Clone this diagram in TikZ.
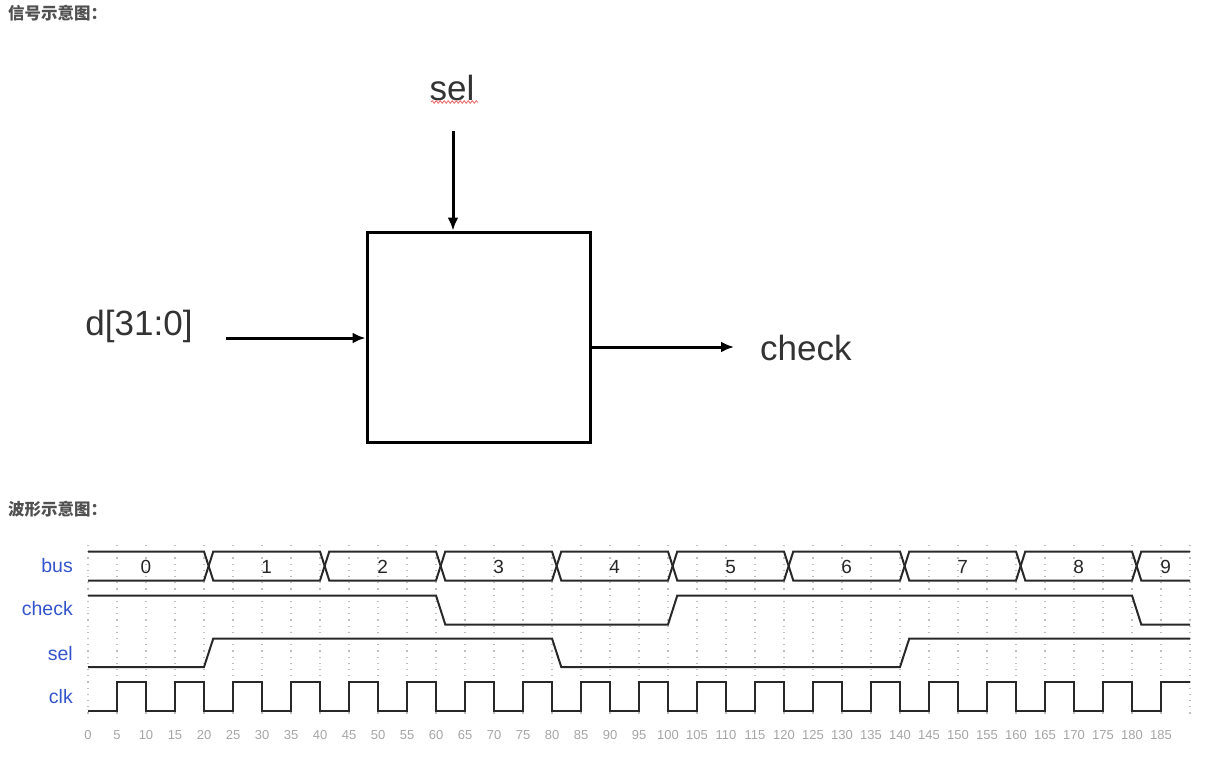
\documentclass[tikz,border=0pt]{standalone}
\usepackage{fontspec}
\setmainfont{Liberation Sans}
\newfontfamily\cjk{Noto Sans CJK SC}
\usetikzlibrary{arrows.meta,decorations.pathmorphing}
\definecolor{ttl}{RGB}{80,80,80}
\definecolor{lbl}{RGB}{51,51,51}
\definecolor{sig}{RGB}{52,84,204}
\definecolor{wv}{RGB}{40,40,40}
\definecolor{grd}{RGB}{190,190,190}
\definecolor{tck}{RGB}{165,165,165}
\definecolor{squig}{RGB}{240,120,120}
\newcommand\wx[1]{88+5.8*(#1)}
\tikzset{
  title/.style={anchor=west,inner sep=0,text=ttl,font=\cjk\bfseries\fontsize{16.5}{19}\selectfont},
  big/.style={inner sep=0,text=lbl,font=\fontsize{35}{42}\selectfont},
  arr/.style={line width=3pt,-{Latex[length=13pt,width=11pt]}},
  blkbox/.style={draw,line width=3pt,minimum width=223pt,minimum height=210pt,inner sep=0},
  signame/.style={anchor=east,inner sep=0,text=sig,font=\fontsize{19.5}{22}\selectfont},
  busval/.style={inner sep=0,text=black!85,font=\fontsize{19}{22}\selectfont},
  ticklbl/.style={inner sep=0,text=tck,font=\fontsize{13}{15}\selectfont},
  wave/.style={draw=wv,line width=2pt,line join=miter},
  gridline/.style={draw=grd,line width=1.2pt,dash pattern=on 1.2pt off 5pt}
}
\begin{document}
\begin{tikzpicture}[x=1pt,y=-1pt]
\useasboundingbox (0,0) rectangle (1207,756);
% titles
\node[title] (t1) at (8,13) {信号示意图：};
\node[title] (t2) at (8,509) {波形示意图：};
% block diagram
\node[blkbox] (blk) at (478.5,337) {};
\node[big] (sellbl) at (452,88) {sel};
\draw[squig,line width=1pt,decorate,decoration={snake,amplitude=1.2pt,segment length=4pt}] (431,102) -- (478,102);
\coordinate (selin) at (453,131);
\draw[arr] (selin) -- (selin |- blk.north);
\node[big] (dlbl) at (139,326) {d[31:0]};
\coordinate (din) at (226,338);
\draw[arr] (din) -- (din -| blk.west);
\node[big,anchor=west] (chklbl) at (760,348) {check};
\coordinate (chkout) at (734,347);
\draw[arr] (chkout -| blk.east) -- (chkout);
% grid
\foreach \k in {0,...,38} {
  \draw[gridline] ({\wx{5*\k}},545) -- ({\wx{5*\k}},716);
}
\foreach \k in {0,...,37} {
  \pgfmathtruncatemacro\v{5*\k}
  \node[ticklbl] (tick\k) at ({\wx{5*\k}},735) {\v};
}
% signal names
\node[signame] (nbus) at (73,566) {bus};
\node[signame] (ncheck) at (73,609) {check};
\node[signame] (nsel) at (73,654) {sel};
\node[signame] (nclk) at (73,697) {clk};
% bus
\draw[wave] ({\wx{0}},551.5) -- ({\wx{20}},551.5)
  -- ({\wx{21.6}},580.5) -- ({\wx{40}},580.5)
  -- ({\wx{41.6}},551.5) -- ({\wx{60}},551.5)
  -- ({\wx{61.6}},580.5) -- ({\wx{80}},580.5)
  -- ({\wx{81.6}},551.5) -- ({\wx{100}},551.5)
  -- ({\wx{101.6}},580.5) -- ({\wx{120}},580.5)
  -- ({\wx{121.6}},551.5) -- ({\wx{140}},551.5)
  -- ({\wx{141.6}},580.5) -- ({\wx{160}},580.5)
  -- ({\wx{161.6}},551.5) -- ({\wx{180}},551.5)
  -- ({\wx{181.6}},580.5) -- ({\wx{190}},580.5);
\draw[wave] ({\wx{0}},580.5) -- ({\wx{20}},580.5)
  -- ({\wx{21.6}},551.5) -- ({\wx{40}},551.5)
  -- ({\wx{41.6}},580.5) -- ({\wx{60}},580.5)
  -- ({\wx{61.6}},551.5) -- ({\wx{80}},551.5)
  -- ({\wx{81.6}},580.5) -- ({\wx{100}},580.5)
  -- ({\wx{101.6}},551.5) -- ({\wx{120}},551.5)
  -- ({\wx{121.6}},580.5) -- ({\wx{140}},580.5)
  -- ({\wx{141.6}},551.5) -- ({\wx{160}},551.5)
  -- ({\wx{161.6}},580.5) -- ({\wx{180}},580.5)
  -- ({\wx{181.6}},551.5) -- ({\wx{190}},551.5);
\node[busval] (b0) at ({\wx{10}},567) {0};
\foreach \k in {1,...,8} {
  \node[busval] (b\k) at ({\wx{20*\k+10.8}},567) {\k};
}
\node[busval] (b9) at ({\wx{185.8}},567) {9};
% check
\draw[wave] ({\wx{0}},595.5) -- ({\wx{60}},595.5) -- ({\wx{61.6}},624.5)
  -- ({\wx{100}},624.5) -- ({\wx{101.6}},595.5) -- ({\wx{180}},595.5)
  -- ({\wx{181.6}},624.5) -- ({\wx{190}},624.5);
% sel
\draw[wave] ({\wx{0}},667) -- ({\wx{20}},667) -- ({\wx{21.6}},638.5)
  -- ({\wx{80}},638.5) -- ({\wx{81.6}},667) -- ({\wx{140}},667)
  -- ({\wx{141.6}},638.5) -- ({\wx{190}},638.5);
% clk
\draw[wave] ({\wx{0}},711) \foreach \k in {0,...,17} {
    -- ({\wx{10*\k+5}},711) -- ({\wx{10*\k+5}},682)
    -- ({\wx{10*\k+10}},682) -- ({\wx{10*\k+10}},711) }
  -- ({\wx{185}},711) -- ({\wx{185}},682) -- ({\wx{190}},682);
\end{tikzpicture}
\end{document}
